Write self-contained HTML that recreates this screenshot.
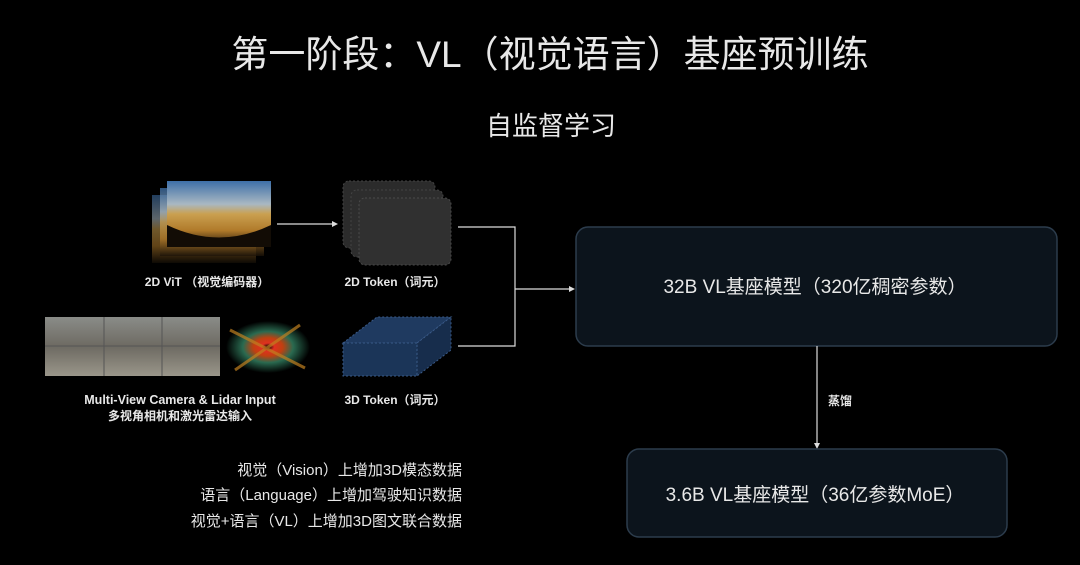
<!DOCTYPE html>
<html><head><meta charset="utf-8"><style>
body{margin:0;background:#000;width:1080px;height:560px;overflow:hidden}
svg text{font-family:"Liberation Sans","Noto Sans CJK SC",sans-serif;fill:#e8e8e8}
</style></head><body>
<svg width="1080" height="560" viewBox="0 0 1080 560" xmlns="http://www.w3.org/2000/svg">
<defs>
<linearGradient id="sky" x1="0" y1="0" x2="0" y2="1">
<stop offset="0" stop-color="#3d6fa8"/><stop offset="0.35" stop-color="#a9b8c2"/><stop offset="0.5" stop-color="#caa050"/><stop offset="0.75" stop-color="#b07a2a"/><stop offset="1" stop-color="#1a1208"/></linearGradient>
<linearGradient id="street" x1="0" y1="0" x2="0" y2="1">
<stop offset="0" stop-color="#8a8c88"/><stop offset="0.5" stop-color="#6d6a62"/><stop offset="1" stop-color="#9a968a"/></linearGradient>
<radialGradient id="lid" cx="0.5" cy="0.5" r="0.5"><stop offset="0" stop-color="#000"/><stop offset="0.15" stop-color="#e03020"/><stop offset="0.35" stop-color="#c04010"/><stop offset="0.6" stop-color="#2a6a50"/><stop offset="1" stop-color="#000"/></radialGradient>
</defs>
<text x="550" y="67" font-size="37" text-anchor="middle" fill="#eee">第一阶段：VL（视觉语言）基座预训练</text>
<text x="551" y="135" font-size="26" text-anchor="middle">自监督学习</text>

<rect x="152" y="195" width="104" height="68" fill="url(#sky)" opacity="0.55"/>
<rect x="160" y="188" width="104" height="68" fill="url(#sky)" opacity="0.75"/>
<rect x="167" y="181" width="104" height="66" fill="url(#sky)"/>
<path d="M167 225 Q219 250 271 225 L271 247 L167 247Z" fill="#120c05"/>
<line x1="277" y1="224" x2="334" y2="224" stroke="#ddd" stroke-width="1.2"/>
<path d="M338 224 L332 221 L332 227Z" fill="#ddd"/>

<rect x="343" y="181" width="92" height="67" rx="6" fill="#2b2b2b" stroke="#444" stroke-dasharray="2 2"/>
<rect x="351" y="190" width="92" height="67" rx="6" fill="#2d2d2d" stroke="#444" stroke-dasharray="2 2"/>
<rect x="359" y="198" width="92" height="67" rx="6" fill="#303030" stroke="#4a4a4a" stroke-dasharray="2 2"/>

<text x="207" y="286" font-size="12" text-anchor="middle" font-weight="bold">2D ViT （视觉编码器）</text>
<text x="395" y="286" font-size="12" text-anchor="middle" font-weight="bold">2D Token（词元）</text>

<rect x="45" y="317" width="175" height="59" fill="url(#street)"/>
<line x1="104" y1="317" x2="104" y2="376" stroke="#555"/><line x1="162" y1="317" x2="162" y2="376" stroke="#555"/><line x1="45" y1="346" x2="220" y2="346" stroke="#555"/>
<rect x="222" y="317" width="94" height="59" fill="#000"/>
<ellipse cx="268" cy="347" rx="42" ry="26" fill="url(#lid)"/>
<path d="M230 330 L305 368 M235 370 L300 325" stroke="#c08020" stroke-width="3" opacity="0.7"/>

<path d="M343 343 L377 317 L451 317 L417 343Z" fill="#1f3a60" stroke="#3a5a88" stroke-dasharray="2 2"/>
<path d="M417 343 L451 317 L451 350 L417 376Z" fill="#172d4c" stroke="#3a5a88" stroke-dasharray="2 2"/>
<rect x="343" y="343" width="74" height="33" fill="#1b3558" stroke="#3a5a88" stroke-dasharray="2 2"/>

<text x="180" y="404" font-size="12.5" text-anchor="middle" font-weight="bold">Multi-View Camera &amp; Lidar Input</text>
<text x="180" y="420" font-size="12" text-anchor="middle" font-weight="bold">多视角相机和激光雷达输入</text>
<text x="395" y="404" font-size="12" text-anchor="middle" font-weight="bold">3D Token（词元）</text>

<path d="M458 227 L515 227 L515 346 L458 346 M515 289 L571 289" stroke="#ddd" stroke-width="1.2" fill="none"/>
<path d="M575 289 L569 286 L569 292Z" fill="#ddd"/>

<rect x="576" y="227" width="481" height="119" rx="12" fill="#0c141c" stroke="#2c3c4c" stroke-width="1.5"/>
<text x="815" y="293" font-size="19" text-anchor="middle">32B VL基座模型（320亿稠密参数）</text>
<line x1="817" y1="346" x2="817" y2="445" stroke="#ddd" stroke-width="1.2"/>
<path d="M817 449 L814 443 L820 443Z" fill="#ddd"/>
<text x="828" y="405" font-size="12" font-weight="bold">蒸馏</text>
<rect x="627" y="449" width="380" height="88" rx="12" fill="#0c141c" stroke="#2c3c4c" stroke-width="1.5"/>
<text x="815" y="501" font-size="19" text-anchor="middle">3.6B VL基座模型（36亿参数MoE）</text>

<text x="462" y="475" font-size="15" text-anchor="end">视觉（Vision）上增加3D模态数据</text>
<text x="462" y="500" font-size="15" text-anchor="end">语言（Language）上增加驾驶知识数据</text>
<text x="462" y="526" font-size="15" text-anchor="end">视觉+语言（VL）上增加3D图文联合数据</text>
</svg>
</body></html>
